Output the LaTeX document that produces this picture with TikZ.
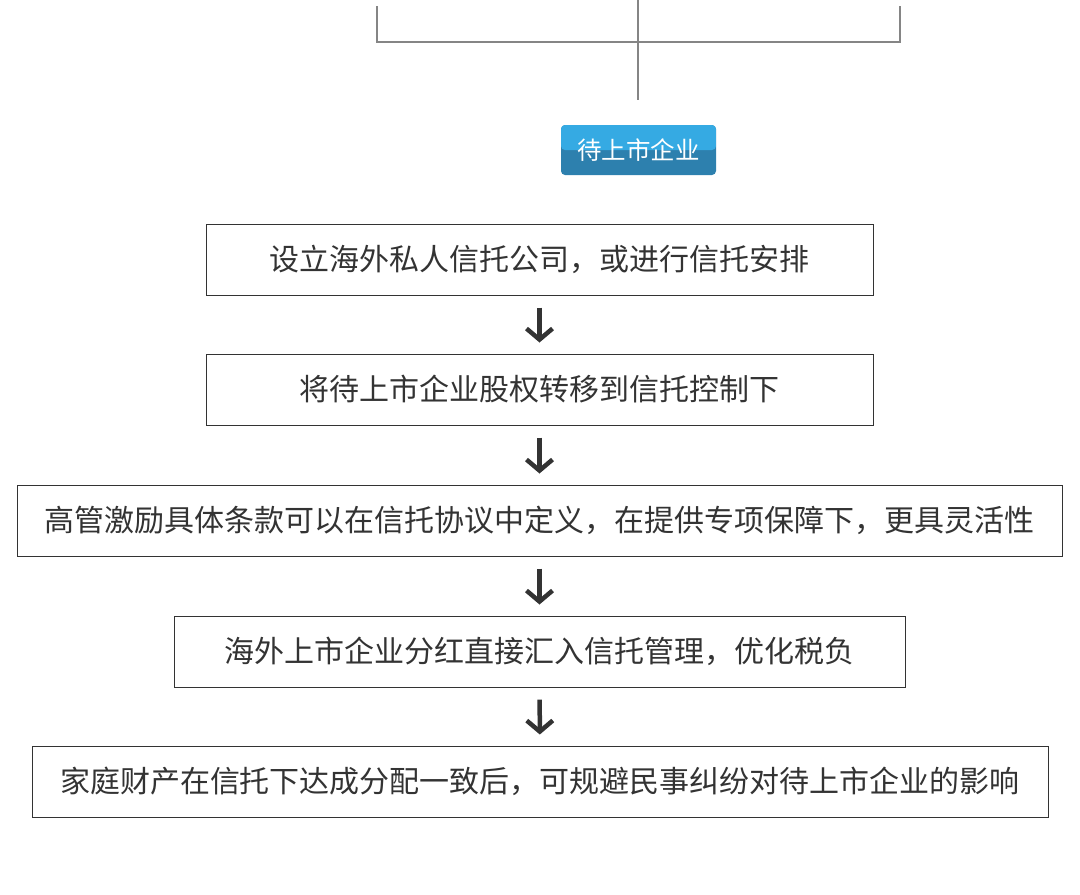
\documentclass[tikz,border=0pt]{standalone}
\usepackage{fontspec}
\setmainfont{Noto Sans CJK SC}
\usepackage{tikz}
\usetikzlibrary{arrows.meta}
\definecolor{boxline}{HTML}{333333}
\definecolor{boxtext}{HTML}{333333}
\definecolor{treeline}{HTML}{858585}
\definecolor{btntop}{HTML}{35AAE3}
\definecolor{btnbot}{HTML}{2D80AE}

\begin{document}
\begin{tikzpicture}[x=1pt,y=-1pt,
step box/.style={draw=boxline,line width=1pt,minimum height=71pt,inner sep=0pt,
  text=boxtext,font=\fontsize{30}{32}\selectfont},
down/.style={line width=4.5pt,draw=boxline,-{Straight Barb[length=11pt,width=26pt]},
  shorten <=12pt,shorten >=11pt},
tree/.style={draw=treeline,line width=2pt}
]
\useasboundingbox (0,0) rectangle (1080,895);
% top of the tree
\coordinate (tl) at (377,6);
\coordinate (tr) at (900,6);
\coordinate (bl) at (377,42);
\coordinate (br) at (900,42);
\coordinate (tc) at (638,0);
\coordinate (bc) at (638,100);
\draw[tree] (tl) -- (bl) -- (br) -- (tr);
\draw[tree] (tc) -- (bc);
% button
\node[fill=btnbot,rounded corners=4pt,minimum width=155pt,minimum height=50pt,inner sep=0pt,
  text=white,font=\fontsize{24.5}{26}\selectfont,
  path picture={\fill[btntop] (path picture bounding box.north west) rectangle (path picture bounding box.east);}]
  (ipo) at (638.5,150) {待上市企业};
% steps
\node[step box,minimum width=667pt] (s1) at (539.5,259.5) {设立海外私人信托公司，或进行信托安排};
\node[step box,minimum width=667pt] (s2) at (539.5,389.5) {将待上市企业股权转移到信托控制下};
\node[step box,minimum width=1045pt] (s3) at (539.5,520.5) {高管激励具体条款可以在信托协议中定义，在提供专项保障下，更具灵活性};
\node[step box,minimum width=731pt] (s4) at (539.5,651.5) {海外上市企业分红直接汇入信托管理，优化税负};
\node[step box,minimum width=1016pt] (s5) at (540,781.5) {家庭财产在信托下达成分配一致后，可规避民事纠纷对待上市企业的影响};
\draw[down] (s1) -- (s2);
\draw[down] (s2) -- (s3);
\draw[down] (s3) -- (s4);
\draw[down] (s4) -- (s5);
\end{tikzpicture}
\end{document}
